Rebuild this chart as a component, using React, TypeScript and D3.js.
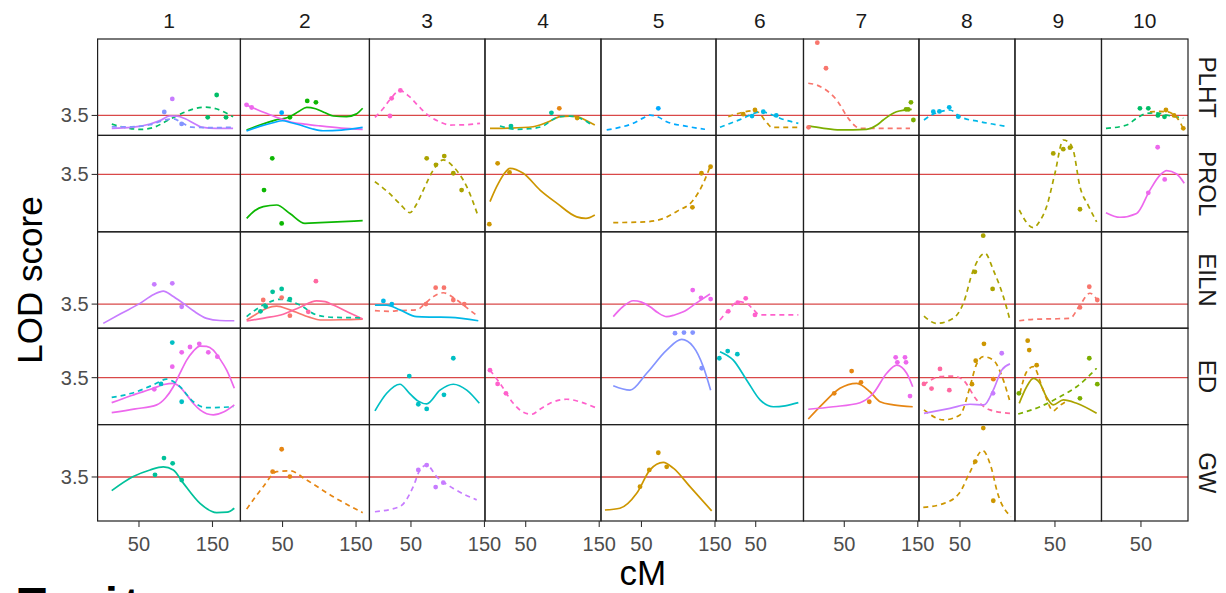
import React from 'react';
import * as d3 from 'd3';

// facet columns (chromosomes) and rows (traits)
const chromosomes = ['1', '2', '3', '4', '5', '6', '7', '8', '9', '10'];
const chromRange: [number, number][] = [
  [-6.3, 188], [-7.3, 168.2], [-6.5, 150.7], [-5.4, 152.4], [-5.1, 151.4],
  [-4, 115], [-5.5, 151.6], [-5.8, 124.8], [-4.4, 113.3], [-3.7, 114],
];
const traits = ['PLHT', 'PROL', 'EILN', 'ED', 'GW'];
const lodRange: [number, number][] = [[2.0, 9.25], [2.0, 4.52], [2.5, 6.5], [2.0, 5.08], [2.5, 4.69]];
const threshold = 3.5;
const cmTicks = [50, 150];
const envLevels = d3.range(1, 17);

type Curve = { trait: string; chr: string; env: number; kind: 'single' | 'joint'; lod: [number, number][] };
type Peak = { trait: string; chr: string; env: number; lod: [number, number][] };

// LOD profiles, [cM, LOD]
const curves: Curve[] = [
  // PLHT
  { trait: 'PLHT', chr: '1', env: 7, kind: 'joint', lod: [[13, 2.85], [35, 2.55], [52, 2.45], [70, 2.6], [88, 3.1], [110, 3.7], [125, 4.0], [140, 4.12], [155, 4.0], [168, 3.7], [178, 3.4]] },
  { trait: 'PLHT', chr: '1', env: 13, kind: 'single', lod: [[13, 2.53], [40, 2.6], [65, 2.86], [80, 3.15], [92, 3.46], [102, 3.45], [113, 3.25], [125, 2.9], [135, 2.62], [155, 2.53], [178, 2.53]] },
  { trait: 'PLHT', chr: '1', env: 12, kind: 'joint', lod: [[13, 2.65], [40, 2.65], [65, 2.8], [85, 3.15], [97, 3.25], [108, 2.95], [122, 2.62], [150, 2.58], [178, 2.62]] },
  { trait: 'PLHT', chr: '2', env: 6, kind: 'single', lod: [[1, 2.41], [20, 2.8], [40, 3.15], [60, 3.41], [72, 3.8], [83, 4.11], [95, 4.0], [108, 3.7], [119, 3.46], [137, 3.41], [150, 3.6], [159, 4.04]] },
  { trait: 'PLHT', chr: '2', env: 14, kind: 'single', lod: [[1, 4.29], [15, 3.95], [28, 3.66], [45, 3.3], [60, 3.03], [80, 2.85], [101, 2.71], [130, 2.55], [159, 2.46]] },
  { trait: 'PLHT', chr: '2', env: 11, kind: 'single', lod: [[1, 2.33], [20, 2.7], [37, 2.95], [50, 3.1], [62, 2.95], [74, 2.78], [90, 2.5], [105, 2.35], [130, 2.4], [159, 2.6]] },
  { trait: 'PLHT', chr: '3', env: 15, kind: 'joint', lod: [[1, 3.36], [12, 4.0], [21, 4.66], [35, 5.36], [48, 4.91], [62, 4.1], [76, 3.41], [90, 3.0], [103, 2.78], [125, 2.8], [144, 2.91]] },
  { trait: 'PLHT', chr: '4', env: 3, kind: 'single', lod: [[1.4, 2.53], [30, 2.55], [60, 2.65], [80, 3.0], [97, 3.41], [110, 3.45], [120, 3.41], [133, 3.1], [144, 2.78]] },
  { trait: 'PLHT', chr: '4', env: 8, kind: 'joint', lod: [[15, 2.71], [37, 2.46], [55, 2.5], [74, 2.71], [87, 3.2], [97, 3.41], [110, 3.45], [124, 3.29], [142, 2.71]] },
  { trait: 'PLHT', chr: '5', env: 11, kind: 'joint', lod: [[2.7, 2.41], [20, 2.6], [38.8, 2.91], [52, 3.3], [61.6, 3.53], [72, 3.4], [84.3, 3.03], [110, 2.7], [136.4, 2.46]] },
  { trait: 'PLHT', chr: '6', env: 3, kind: 'joint', lod: [[12.7, 3.41], [30, 3.7], [46.7, 3.86], [55, 3.7], [60.3, 3.29], [66, 2.9], [71.8, 2.61], [108, 2.61]] },
  { trait: 'PLHT', chr: '6', env: 10, kind: 'joint', lod: [[1.4, 2.61], [15, 2.9], [33, 3.29], [45, 3.6], [58, 3.78], [70, 3.6], [83, 3.29], [108, 2.91]] },
  { trait: 'PLHT', chr: '7', env: 1, kind: 'joint', lod: [[1, 5.92], [12, 5.8], [23.7, 5.47], [39.7, 4.66], [55.4, 3.29], [65, 2.7], [71.4, 2.53], [139.4, 2.53]] },
  { trait: 'PLHT', chr: '7', env: 5, kind: 'single', lod: [[1, 2.71], [20, 2.55], [44, 2.41], [80, 2.46], [95, 2.8], [103, 3.16], [121, 3.78], [141.7, 3.96]] },
  { trait: 'PLHT', chr: '8', env: 10, kind: 'joint', lod: [[1, 3.16], [12, 3.55], [22.8, 3.78], [36.4, 3.91], [50, 3.41], [77.2, 3.03], [100, 2.8], [115.7, 2.65]] },
  { trait: 'PLHT', chr: '10', env: 7, kind: 'joint', lod: [[2.4, 2.53], [30.5, 2.78], [44.1, 3.29], [57.8, 3.66], [70, 3.7], [85, 3.53], [107.6, 3.29]] },
  { trait: 'PLHT', chr: '10', env: 3, kind: 'joint', lod: [[62.2, 3.78], [75, 3.8], [85, 3.78], [98.6, 3.36], [107.6, 2.53]] },
  // PROL
  { trait: 'PROL', chr: '2', env: 6, kind: 'single', lod: [[1.2, 2.35], [12, 2.55], [23.7, 2.66], [42, 2.7], [60, 2.48], [80.5, 2.22], [101, 2.24], [159, 2.29]] },
  { trait: 'PROL', chr: '3', env: 4, kind: 'joint', lod: [[1, 3.31], [18, 3.05], [35, 2.73], [48.6, 2.5], [57, 2.7], [66.8, 3.09], [80.5, 3.62], [94, 3.88], [107.7, 3.7], [125.9, 3.18], [141.7, 2.39]] },
  { trait: 'PROL', chr: '4', env: 3, kind: 'single', lod: [[1.4, 2.79], [10.5, 3.18], [20, 3.5], [28.6, 3.66], [46.7, 3.53], [69.5, 3.09], [92.2, 2.75], [119.4, 2.39], [132, 2.35], [144, 2.44]] },
  { trait: 'PROL', chr: '5', env: 3, kind: 'joint', lod: [[11.6, 2.24], [54.8, 2.26], [80, 2.35], [97.9, 2.53], [120.5, 2.83], [134.1, 3.27], [143.2, 3.7]] },
  { trait: 'PROL', chr: '9', env: 4, kind: 'joint', lod: [[1.4, 2.57], [20.5, 2.11], [30, 2.3], [38.7, 2.66], [50, 3.53], [61.3, 4.4], [68, 4.35], [74.8, 4.14], [84, 3.18], [95, 2.7], [106.7, 2.26]] },
  { trait: 'PROL', chr: '10', env: 14, kind: 'single', lod: [[2.4, 2.5], [21.4, 2.38], [44.1, 2.48], [62.2, 3.09], [75.9, 3.48], [85, 3.6], [98.6, 3.51], [108.9, 3.27]] },
  // EILN
  { trait: 'EILN', chr: '1', env: 13, kind: 'single', lod: [[1.4, 2.7], [25, 3.1], [51.4, 3.53], [70, 3.9], [83.1, 4.04], [95, 3.85], [110.3, 3.53], [125, 3.2], [142, 2.91], [160, 2.82], [179.7, 2.81]] },
  { trait: 'EILN', chr: '2', env: 1, kind: 'single', lod: [[1.2, 2.84], [15, 3.1], [28.4, 3.33], [42, 3.42], [60, 3.26], [87.3, 2.95], [101, 2.84], [130, 2.85], [159, 2.88]] },
  { trait: 'EILN', chr: '2', env: 16, kind: 'single', lod: [[1.2, 2.8], [25, 2.92], [51, 3.08], [73.7, 3.37], [96.3, 3.63], [108, 3.6], [119, 3.46], [140, 3.15], [159, 2.88]] },
  { trait: 'EILN', chr: '2', env: 8, kind: 'joint', lod: [[1.2, 2.98], [15, 3.3], [28.4, 3.53], [46.5, 3.7], [60, 3.62], [73.7, 3.46], [96.3, 3.05], [120, 2.95], [159, 2.93]] },
  { trait: 'EILN', chr: '3', env: 1, kind: 'joint', lod: [[1, 3.23], [20, 3.2], [35, 3.23], [57.8, 3.26], [70, 3.55], [80.5, 3.81], [94, 3.97], [112.2, 3.67], [128, 3.3], [141.6, 2.98]] },
  { trait: 'EILN', chr: '3', env: 10, kind: 'single', lod: [[1, 3.46], [17, 3.46], [35, 3.26], [57.8, 2.98], [80, 2.96], [103, 2.95], [141.6, 2.81]] },
  { trait: 'EILN', chr: '5', env: 14, kind: 'single', lod: [[11.6, 2.98], [25, 3.4], [38.8, 3.64], [50, 3.58], [61.6, 3.39], [72, 3.15], [84.3, 2.98], [95, 3.05], [106.9, 3.18], [125, 3.55], [143.2, 3.92]] },
  { trait: 'EILN', chr: '6', env: 15, kind: 'joint', lod: [[1.4, 2.84], [12.7, 3.25], [26.3, 3.6], [37.8, 3.53], [46, 3.3], [55.9, 3.05], [75, 3.05], [108, 3.05]] },
  { trait: 'EILN', chr: '8', env: 4, kind: 'joint', lod: [[1, 3.0], [18.3, 2.7], [40.9, 2.91], [54.5, 3.53], [68.1, 4.91], [84, 5.61], [95.4, 4.91], [109, 3.81], [118, 2.84]] },
  { trait: 'EILN', chr: '9', env: 1, kind: 'joint', lod: [[1.4, 2.81], [20.5, 2.87], [50, 2.89], [70.4, 2.91], [84, 3.46], [97.6, 3.95], [107.6, 3.67]] },
  // ED
  { trait: 'ED', chr: '1', env: 14, kind: 'single', lod: [[12.9, 2.38], [45, 2.5], [74.1, 2.63], [86, 2.85], [96.7, 3.21], [106, 3.65], [114.9, 4.06], [124, 4.35], [133, 4.51], [142, 4.5], [151.1, 4.38], [160, 4.1], [169.3, 3.74], [179.7, 3.16]] },
  { trait: 'ED', chr: '1', env: 14, kind: 'single', lod: [[12.9, 2.7], [40, 2.93], [69.5, 3.16], [84, 3.28], [96.7, 3.32], [106, 3.2], [114.9, 2.95], [125, 2.65], [133, 2.47], [151.1, 2.31], [165, 2.4], [179.7, 2.63]] },
  { trait: 'ED', chr: '1', env: 9, kind: 'joint', lod: [[12.9, 2.87], [40, 3.0], [69.5, 3.27], [87.7, 3.45], [95, 3.4], [105.8, 3.21], [123.9, 2.73], [142, 2.54], [160, 2.55], [178.3, 2.57]] },
  { trait: 'ED', chr: '3', env: 9, kind: 'single', lod: [[1, 2.44], [17, 3.0], [35, 3.29], [48, 3.0], [60, 2.75], [71.4, 2.66], [89.5, 3.1], [107.6, 3.29], [125.9, 3.1], [143, 2.68]] },
  { trait: 'ED', chr: '4', env: 15, kind: 'joint', lod: [[1.4, 3.74], [15, 3.32], [33.1, 2.68], [45, 2.42], [58.2, 2.33], [70, 2.5], [83.1, 2.68], [105.8, 2.81], [125, 2.72], [144.3, 2.55]] },
  { trait: 'ED', chr: '5', env: 12, kind: 'single', lod: [[11.6, 3.24], [34.4, 3.1], [57.1, 3.64], [84.3, 4.38], [104.7, 4.72], [120.5, 4.49], [134.1, 3.85], [144.1, 3.1]] },
  { trait: 'ED', chr: '6', env: 9, kind: 'single', lod: [[1.4, 4.33], [19.5, 4.06], [37.8, 3.42], [55.9, 2.79], [73.9, 2.57], [90, 2.6], [108, 2.7]] },
  { trait: 'ED', chr: '7', env: 2, kind: 'single', lod: [[1, 2.18], [21.4, 2.68], [44.1, 3.16], [66.9, 3.32], [85, 3.05], [98.6, 2.73], [116.7, 2.63], [143.1, 2.57]] },
  { trait: 'ED', chr: '7', env: 14, kind: 'single', lod: [[1, 2.49], [35, 2.57], [71.4, 2.7], [89.5, 3.0], [107.7, 3.64], [121.3, 3.9], [134.9, 3.64], [143.1, 3.21]] },
  { trait: 'ED', chr: '8', env: 16, kind: 'joint', lod: [[0.1, 3.27], [22.8, 3.53], [40.9, 3.55], [54.5, 3.42], [72.7, 2.79], [90.8, 2.47], [118, 2.36]] },
  { trait: 'ED', chr: '8', env: 3, kind: 'joint', lod: [[1, 2.47], [27.3, 2.15], [50, 2.31], [63.6, 3.21], [72, 3.9], [81.7, 4.17], [95.4, 4.06], [109, 3.42], [118, 2.73]] },
  { trait: 'ED', chr: '8', env: 13, kind: 'single', lod: [[1, 2.36], [36.4, 2.52], [63.6, 2.65], [82.6, 2.63], [95.4, 3.11], [106.8, 3.74], [118, 3.94]] },
  { trait: 'ED', chr: '9', env: 4, kind: 'single', lod: [[1.4, 2.68], [11.5, 3.21], [20.5, 3.48], [29.6, 3.32], [38, 2.9], [47.7, 2.63], [61.3, 2.79], [79.5, 2.68], [106.7, 2.36]] },
  { trait: 'ED', chr: '9', env: 3, kind: 'joint', lod: [[2.4, 3.0], [11.5, 3.69], [20.5, 3.85], [34.1, 3.1], [47.7, 2.44], [56, 2.6], [66, 2.75]] },
  { trait: 'ED', chr: '9', env: 5, kind: 'joint', lod: [[0, 2.34], [29.6, 2.57], [56.8, 2.89], [79.5, 3.21], [106.7, 3.8]] },
  // GW
  { trait: 'GW', chr: '1', env: 8, kind: 'single', lod: [[12.9, 3.19], [42.2, 3.51], [65, 3.66], [83.1, 3.73], [96.7, 3.66], [110.3, 3.36], [133, 2.9], [155.7, 2.69], [170, 2.7], [179.7, 2.79]] },
  { trait: 'GW', chr: '2', env: 2, kind: 'joint', lod: [[1.2, 2.77], [23.7, 3.28], [42, 3.62], [60, 3.64], [82.8, 3.43], [119, 3.05], [159, 2.69]] },
  { trait: 'GW', chr: '3', env: 13, kind: 'joint', lod: [[1, 2.71], [35, 2.83], [53.1, 3.28], [62.2, 3.66], [71.4, 3.77], [85, 3.51], [107.6, 3.24], [139.4, 2.98]] },
  { trait: 'GW', chr: '5', env: 3, kind: 'single', lod: [[0.3, 2.75], [20.7, 2.79], [43.5, 3.13], [61.6, 3.66], [79.7, 3.83], [93.3, 3.7], [116, 3.28], [145.5, 2.73]] },
  { trait: 'GW', chr: '8', env: 3, kind: 'joint', lod: [[0.1, 2.81], [26.5, 2.89], [49, 3.13], [62.7, 3.58], [80.9, 4.1], [92.2, 3.73], [101.2, 3.13], [119.3, 2.6]] },
];

// single-marker LOD values, [cM, LOD]
const peaks: Peak[] = [
  { trait: 'PLHT', chr: '1', env: 7, lod: [[155.7, 5.04], [143.5, 3.36], [168.4, 3.36]] },
  { trait: 'PLHT', chr: '1', env: 13, lod: [[95.3, 4.74]] },
  { trait: 'PLHT', chr: '1', env: 12, lod: [[84.4, 3.76], [108, 2.86]] },
  { trait: 'PLHT', chr: '2', env: 6, lod: [[83.6, 4.59], [95.4, 4.49], [60, 3.36]] },
  { trait: 'PLHT', chr: '2', env: 14, lod: [[1, 4.3], [8, 4.1]] },
  { trait: 'PLHT', chr: '2', env: 11, lod: [[48.8, 3.71]] },
  { trait: 'PLHT', chr: '3', env: 15, lod: [[35.6, 5.38], [23.7, 4.79], [21.4, 3.46]] },
  { trait: 'PLHT', chr: '4', env: 2, lod: [[95.7, 4.04]] },
  { trait: 'PLHT', chr: '4', env: 8, lod: [[85, 3.7], [30, 2.7]] },
  { trait: 'PLHT', chr: '4', env: 3, lod: [[120, 3.3]] },
  { trait: 'PLHT', chr: '5', env: 11, lod: [[72.9, 4.04]] },
  { trait: 'PLHT', chr: '6', env: 3, lod: [[49, 3.91], [33, 3.6]] },
  { trait: 'PLHT', chr: '6', env: 10, lod: [[60.3, 3.78], [45, 3.45], [78, 3.5]] },
  { trait: 'PLHT', chr: '7', env: 1, lod: [[13.3, 8.97], [25.1, 7.05], [1.4, 2.61]] },
  { trait: 'PLHT', chr: '7', env: 5, lod: [[140.7, 4.49], [144, 3.16], [134, 3.96], [137, 3.95]] },
  { trait: 'PLHT', chr: '8', env: 10, lod: [[13.7, 3.78], [35.4, 4.11], [47.7, 3.41], [22, 3.8]] },
  { trait: 'PLHT', chr: '10', env: 7, lod: [[48.6, 4.04], [60, 4.04], [73, 3.5], [82, 3.4]] },
  { trait: 'PLHT', chr: '10', env: 3, lod: [[84, 3.91], [107.6, 2.53], [95, 3.5]] },
  { trait: 'PROL', chr: '2', env: 6, lod: [[36, 3.92], [24.8, 3.09], [48.8, 2.22]] },
  { trait: 'PROL', chr: '3', env: 4, lod: [[71.4, 3.92], [84, 3.75], [95.3, 3.98], [107.6, 3.53], [118.9, 3.09]] },
  { trait: 'PROL', chr: '4', env: 3, lod: [[11.8, 3.79], [0.5, 2.2], [28, 3.55]] },
  { trait: 'PROL', chr: '5', env: 3, lod: [[144, 3.7], [131.6, 3.53], [119.3, 2.64]] },
  { trait: 'PROL', chr: '9', env: 4, lod: [[47.7, 4.05], [61.3, 4.16], [70.4, 4.2], [84, 2.59]] },
  { trait: 'PROL', chr: '10', env: 14, lod: [[72.7, 4.21], [82.3, 3.37], [60, 3.02]] },
  { trait: 'EILN', chr: '1', env: 13, lod: [[70.8, 4.32], [95.3, 4.36], [108.1, 3.39]] },
  { trait: 'EILN', chr: '2', env: 8, lod: [[36.5, 4.01], [48.8, 4.13], [60, 3.71], [27, 3.4], [20, 3.2]] },
  { trait: 'EILN', chr: '2', env: 1, lod: [[23.7, 3.67], [48.8, 3.77], [60, 3.02]] },
  { trait: 'EILN', chr: '2', env: 16, lod: [[95.4, 4.45], [85, 3.18]] },
  { trait: 'EILN', chr: '3', env: 1, lod: [[83.6, 4.18], [94.9, 4.18], [107.6, 3.67], [70.4, 3.5], [122.5, 3.5]] },
  { trait: 'EILN', chr: '3', env: 10, lod: [[12.5, 3.63], [24, 3.5]] },
  { trait: 'EILN', chr: '5', env: 14, lod: [[119.7, 4.08], [144.1, 3.71], [131, 3.76]] },
  { trait: 'EILN', chr: '6', env: 15, lod: [[25.5, 3.56], [36.4, 3.74], [49, 3.05], [12.7, 3.2]] },
  { trait: 'EILN', chr: '8', env: 4, lod: [[81.6, 6.34], [70.3, 4.84], [94.4, 4.13]] },
  { trait: 'EILN', chr: '9', env: 1, lod: [[96.7, 4.22], [107.6, 3.67], [84, 3.36]] },
  { trait: 'ED', chr: '1', env: 9, lod: [[95.3, 4.62], [108.1, 2.73], [80, 3.3]] },
  { trait: 'ED', chr: '1', env: 14, lod: [[95.3, 3.85], [108.1, 4.31], [119.4, 4.48], [132, 4.58], [144.3, 4.31], [156.6, 4.17], [70.8, 3.13]] },
  { trait: 'ED', chr: '3', env: 9, lod: [[47.7, 3.55], [107.6, 4.12], [60, 2.65], [71.4, 2.5], [94.9, 2.95]] },
  { trait: 'ED', chr: '4', env: 15, lod: [[1.4, 3.74], [11.8, 3.3], [23.1, 3.0]] },
  { trait: 'ED', chr: '5', env: 12, lod: [[95.6, 4.92], [107.8, 4.94], [119.7, 4.94], [131.9, 3.8]] },
  { trait: 'ED', chr: '6', env: 9, lod: [[0.5, 4.12], [11.9, 4.35], [25, 4.25]] },
  { trait: 'ED', chr: '7', env: 2, lod: [[60, 3.71], [72.7, 3.35], [84, 2.73], [36.3, 3.0]] },
  { trait: 'ED', chr: '7', env: 14, lod: [[119.9, 4.15], [132.6, 4.15], [134, 3.99], [122.2, 3.99], [139.4, 2.91]] },
  { trait: 'ED', chr: '8', env: 16, lod: [[11.3, 3.15], [22.8, 3.78], [35.5, 3.1], [1, 3.3]] },
  { trait: 'ED', chr: '8', env: 3, lod: [[82.6, 4.58], [71.4, 4.04], [66.3, 3.29]] },
  { trait: 'ED', chr: '8', env: 13, lod: [[106.8, 4.28], [95, 3.0]] },
  { trait: 'ED', chr: '8', env: 2, lod: [[95.4, 3.45]] },
  { trait: 'ED', chr: '9', env: 3, lod: [[12.9, 4.68], [15, 4.38], [25.1, 3.9]] },
  { trait: 'ED', chr: '9', env: 5, lod: [[96.7, 4.12], [107.6, 3.29], [84, 2.84], [1, 3.0]] },
  { trait: 'GW', chr: '1', env: 8, lod: [[84, 3.93], [95.8, 3.81], [71.8, 3.55], [108.1, 3.43]] },
  { trait: 'GW', chr: '2', env: 2, lod: [[48.8, 4.13], [36.5, 3.62], [60, 3.51]] },
  { trait: 'GW', chr: '3', env: 13, lod: [[60, 3.66], [71.4, 3.77], [83.6, 3.27], [94, 3.37]] },
  { trait: 'GW', chr: '5', env: 3, lod: [[72.9, 4.05], [60.6, 3.66], [84.3, 3.73], [48, 3.28]] },
  { trait: 'GW', chr: '8', env: 3, lod: [[81.7, 4.61], [70.8, 3.85], [95.3, 2.96]] },
];

const FONT = '"Liberation Sans", Arial, Helvetica, sans-serif';

const App = () => {
  const width = 1226;
  const height = 593;
  const plotLeft = 97.6;
  const plotRight = 1188;
  const plotTop = 39;
  const plotBottom = 521;

  const color = d3.scaleOrdinal<number, string>()
    .domain(envLevels)
    .range(['#F8766D', '#E68613', '#CD9600', '#ABA300', '#7CAE00', '#0CB702', '#00BE67', '#00C19A',
      '#00BFC4', '#00B8E7', '#00A9FF', '#8494FF', '#C77CFF', '#ED68ED', '#FF61CC', '#FF68A1']);

  // free x: column widths follow the chromosome length
  const totalCM = d3.sum(chromRange, (r) => r[1] - r[0]);
  const pxPerCM = (plotRight - plotLeft) / totalCM;
  const colStart = d3.cumsum([0, ...chromRange.map((r) => r[1] - r[0])]).map((v) => plotLeft + v * pxPerCM);
  const xScales = chromRange.map((r, i) => d3.scaleLinear().domain(r).range([colStart[i], colStart[i + 1]]));

  const rowH = (plotBottom - plotTop) / traits.length;
  const yScales = lodRange.map((r, j) => d3.scaleLinear().domain(r)
    .range([plotTop + (j + 1) * rowH, plotTop + j * rowH]));

  const panels: { i: number; j: number }[] = [];
  traits.forEach((_, j) => chromosomes.forEach((__, i) => panels.push({ i, j })));

  return (
    <div style={{ position: 'absolute', left: 0, top: 0 }}>
      <svg width={width} height={height} style={{ display: 'block', background: '#fff', fontFamily: FONT }}>
        <defs>
          {panels.map(({ i, j }) => (
            <clipPath id={`clip-${i}-${j}`} key={`c${i}-${j}`}>
              <rect x={colStart[i]} y={plotTop + j * rowH} width={colStart[i + 1] - colStart[i]} height={rowH} />
            </clipPath>
          ))}
        </defs>

        {panels.map(({ i, j }) => {
          const x = xScales[i];
          const y = yScales[j];
          const line = d3.line<[number, number]>().x((d) => x(d[0])).y((d) => y(d[1])).curve(d3.curveMonotoneX);
          const cs = curves.filter((c) => c.trait === traits[j] && c.chr === chromosomes[i]);
          const ps = peaks.filter((p) => p.trait === traits[j] && p.chr === chromosomes[i]);
          return (
            <g key={`p${i}-${j}`} clipPath={`url(#clip-${i}-${j})`}>
              <line x1={x.range()[0]} x2={x.range()[1]} y1={y(threshold)} y2={y(threshold)}
                stroke="#D94848" strokeWidth={1.3} />
              {cs.map((c, k) => (
                <path key={k} d={line(c.lod) ?? ''} fill="none" stroke={color(c.env)} strokeWidth={1.7}
                  strokeDasharray={c.kind === 'joint' ? '5 4' : undefined} />
              ))}
              {ps.map((p, k) => p.lod.map((d, m) => (
                <circle key={`${k}-${m}`} cx={x(d[0])} cy={y(d[1])} r={2.4} fill={color(p.env)} />
              )))}
            </g>
          );
        })}

        {/* panel borders */}
        {panels.map(({ i, j }) => (
          <rect key={`b${i}-${j}`} x={colStart[i]} y={plotTop + j * rowH}
            width={colStart[i + 1] - colStart[i]} height={rowH}
            fill="none" stroke="#1f1f1f" strokeWidth={1.2} />
        ))}

        {/* top strips */}
        {chromosomes.map((c, i) => (
          <text key={`s${c}`} x={(colStart[i] + colStart[i + 1]) / 2} y={28} textAnchor="middle"
            fontSize={21} fill="#1A1A1A">{c}</text>
        ))}

        {/* right strips */}
        {traits.map((t, j) => (
          <text key={`r${t}`} transform={`translate(1199,${plotTop + (j + 0.5) * rowH}) rotate(90)`}
            textAnchor="middle" fontSize={24} fill="#1A1A1A">{t}</text>
        ))}

        {/* y axis */}
        {traits.map((t, j) => (
          <g key={`y${t}`} transform={`translate(${plotLeft},${yScales[j](threshold)})`}>
            <line x1={-6} x2={0} stroke="#333" strokeWidth={1.1} />
            <text x={-9} dy="0.35em" textAnchor="end" fontSize={20} fill="#4D4D4D">{threshold}</text>
          </g>
        ))}

        {/* x axes */}
        {xScales.map((x, i) => cmTicks.filter((t) => t >= x.domain()[0] && t <= x.domain()[1]).map((t) => (
          <g key={`x${i}-${t}`} transform={`translate(${x(t)},${plotBottom})`}>
            <line y1={0} y2={6} stroke="#333" strokeWidth={1.1} />
            <text y={30} textAnchor="middle" fontSize={20} fill="#4D4D4D">{t}</text>
          </g>
        )))}

        <text x={(plotLeft + plotRight) / 2} y={585} textAnchor="middle" fontSize={35} fill="#000">cM</text>
        <text transform={`translate(42,${(plotTop + plotBottom) / 2}) rotate(-90)`} textAnchor="middle"
          fontSize={35} fill="#000">LOD score</text>
        {/* legend title, cut off by the bottom edge as in the source image */}
        <text x={18} y={620} fontSize={46} fontWeight="bold" letterSpacing={6} fill="#000">Trait:</text>
      </svg>
    </div>
  );
};

export default App;
